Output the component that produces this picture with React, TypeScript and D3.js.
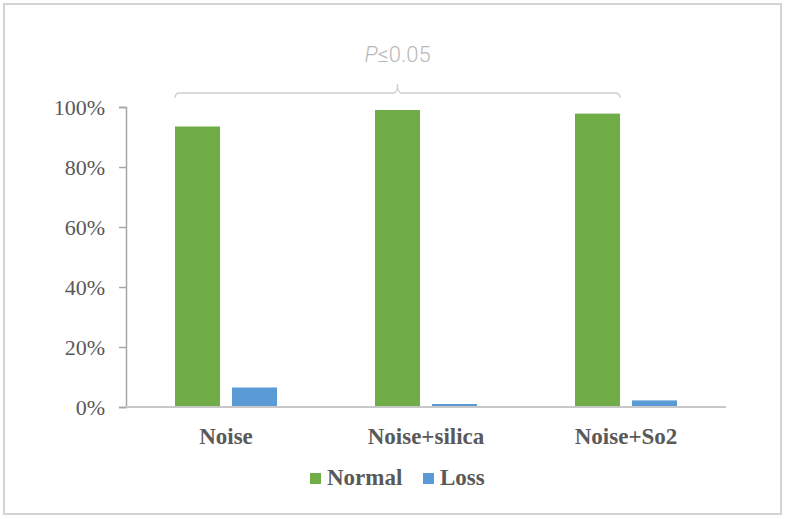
import { useEffect, useRef } from 'react';
import * as d3 from 'd3';

const categories = ['Noise', 'Noise+silica', 'Noise+So2'];
const seriesNames = ['Normal', 'Loss'];
const normalValues = [93.5, 99.0, 97.8];
const lossValues = [6.5, 1.0, 2.2];
const yTicks = [0, 20, 40, 60, 80, 100];
const pLabel = '0.05';

const colors: Record<string, string> = { Normal: '#70AD47', Loss: '#5B9BD5' };

const W = 786;
const H = 519;

export default function App() {
  const svgRef = useRef<SVGSVGElement>(null);

  useEffect(() => {
    if (!svgRef.current) return;
    const svg = d3.select(svgRef.current);
    svg.selectAll('*').remove();

    // outer frame
    svg.append('rect')
      .attr('x', 4).attr('y', 4)
      .attr('width', 777).attr('height', 510)
      .attr('fill', '#fff')
      .attr('stroke', '#d4d4d4')
      .attr('stroke-width', 2);

    const left = 126;
    const right = 726;
    const bottom = 407;
    const top = 107;

    const x = d3.scaleBand<string>()
      .domain(categories)
      .range([left, right]);

    const xInner = d3.scaleBand<string>()
      .domain(seriesNames)
      .range([0, x.bandwidth()])
      .paddingInner(0.21)
      .paddingOuter(0.86);

    const y = d3.scaleLinear().domain([0, 100]).range([bottom, top]);

    const rows = categories.map((c, i) => ({
      category: c,
      values: [
        { key: 'Normal', value: normalValues[i] },
        { key: 'Loss', value: lossValues[i] },
      ],
    }));

    // bars
    const groups = svg.append('g')
      .selectAll('g')
      .data(rows)
      .join('g')
      .attr('transform', d => `translate(${x(d.category)},0)`);

    groups.selectAll('rect')
      .data(d => d.values)
      .join('rect')
      .attr('x', d => xInner(d.key)!)
      .attr('width', xInner.bandwidth())
      .attr('y', d => y(d.value))
      .attr('height', d => y(0) - y(d.value))
      .attr('fill', d => colors[d.key]);

    // y axis
    const yAxis = d3.axisLeft(y)
      .tickValues(yTicks)
      .tickSize(7)
      .tickPadding(14)
      .tickFormat(d => `${d}%`);

    const yg = svg.append('g')
      .attr('transform', `translate(${left},0)`)
      .call(yAxis);
    yg.select('.domain').attr('stroke', '#a6a6a6').attr('stroke-width', 1.5);
    yg.selectAll('.tick line').attr('stroke', '#a6a6a6').attr('stroke-width', 1.5);
    yg.selectAll('.tick text')
      .attr('fill', '#595959')
      .attr('font-family', '"Liberation Serif", serif')
      .attr('font-size', 22)
      .attr('dy', '0.34em');

    // x axis baseline
    svg.append('line')
      .attr('x1', left).attr('x2', right)
      .attr('y1', bottom).attr('y2', bottom)
      .attr('stroke', '#c8c8c8')
      .attr('stroke-width', 2);

    // category labels
    svg.append('g')
      .selectAll('text')
      .data(categories)
      .join('text')
      .attr('x', d => x(d)! + x.bandwidth() / 2)
      .attr('y', 444)
      .attr('text-anchor', 'middle')
      .attr('fill', '#595959')
      .attr('font-family', '"Liberation Serif", serif')
      .attr('font-weight', 'bold')
      .attr('font-size', 23)
      .text(d => d);

    // significance bracket spanning first to last group
    const bx1 = x(categories[0])! + xInner('Normal')!;
    const bx2 = x(categories[2])! + xInner('Normal')! + xInner.bandwidth();
    const bmid = (bx1 + bx2) / 2;
    const by = 93;
    const bracket = d3.path();
    bracket.moveTo(bx1, by + 5);
    bracket.quadraticCurveTo(bx1, by, bx1 + 5, by);
    bracket.lineTo(bmid - 4, by);
    bracket.quadraticCurveTo(bmid, by, bmid, by - 9);
    bracket.quadraticCurveTo(bmid, by, bmid + 4, by);
    bracket.lineTo(bx2 - 5, by);
    bracket.quadraticCurveTo(bx2, by, bx2, by + 5);
    svg.append('path')
      .attr('d', bracket.toString())
      .attr('fill', 'none')
      .attr('stroke', '#d0d0d0')
      .attr('stroke-width', 1.3);

    const pText = svg.append('text')
      .attr('x', bmid)
      .attr('y', 62)
      .attr('text-anchor', 'middle')
      .attr('fill', '#b8b8b8')
      .attr('font-family', 'Roboto, "Noto Sans", sans-serif')
      .attr('font-weight', 300)
      .attr('font-size', 22);
    pText.append('tspan').attr('font-style', 'italic').text('P');
    pText.append('tspan').text(`≤${pLabel}`);

    // legend
    const legendItems = [
      { key: 'Normal', x: 310 },
      { key: 'Loss', x: 423 },
    ];
    const lg = svg.append('g')
      .selectAll('g')
      .data(legendItems)
      .join('g')
      .attr('transform', d => `translate(${d.x},473)`);
    lg.append('rect')
      .attr('width', 11)
      .attr('height', 11)
      .attr('fill', d => colors[d.key]);
    lg.append('text')
      .attr('x', 17)
      .attr('y', 12)
      .attr('fill', '#595959')
      .attr('font-family', '"Liberation Serif", serif')
      .attr('font-weight', 'bold')
      .attr('font-size', 23)
      .text(d => d.key);
  }, []);

  return (
    <svg
      ref={svgRef}
      width={W}
      height={H}
      style={{ position: 'absolute', left: 0, top: 0, display: 'block' }}
    />
  );
}
